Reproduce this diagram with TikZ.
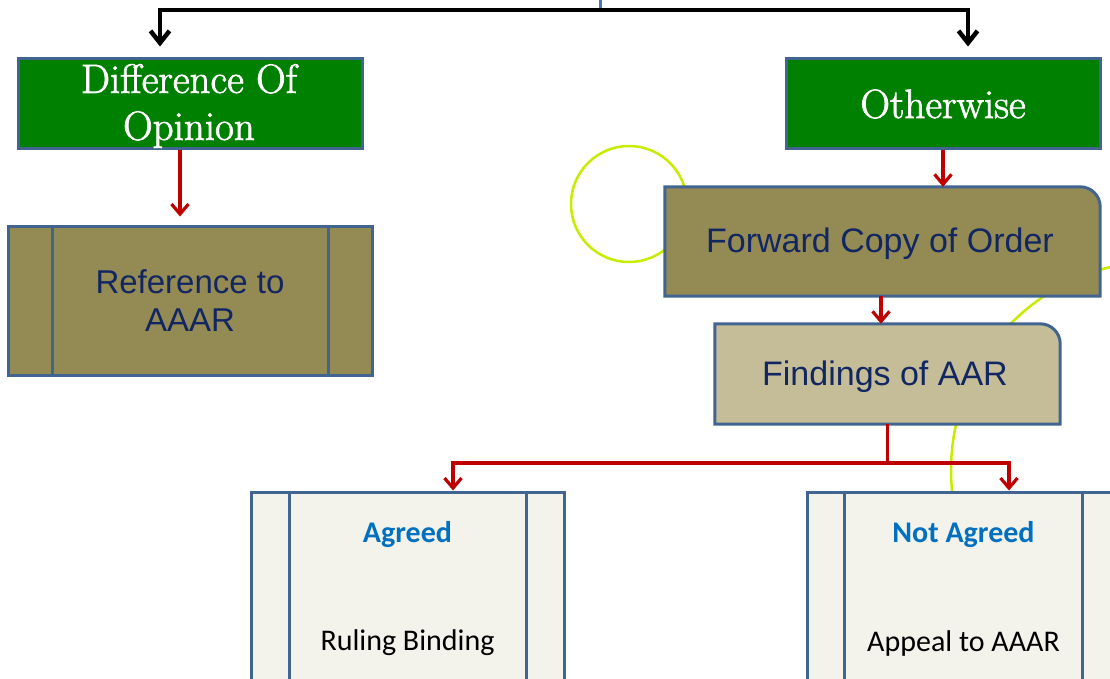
\documentclass[tikz,border=0pt]{standalone}
\usepackage{fontspec}
\newfontfamily\arialf{Liberation Sans}
\newfontfamily\calf{Carlito}
\newfontfamily\gfont{Latin Modern Roman}[FakeBold=1.8]
\usetikzlibrary{arrows.meta,backgrounds,calc}
\definecolor{gr}{RGB}{0,128,0}
\definecolor{oliv}{RGB}{148,138,84}
\definecolor{tan}{RGB}{196,189,151}
\definecolor{lite}{RGB}{243,242,235}
\definecolor{bord}{RGB}{65,100,145}
\definecolor{navy}{RGB}{18,38,98}
\definecolor{bluet}{RGB}{0,112,192}
\definecolor{arrred}{RGB}{192,0,0}
\definecolor{lime}{RGB}{200,236,0}
\definecolor{topblue}{RGB}{70,120,190}
\tikzset{
 gbox/.style={draw=bord, line width=3pt, fill=gr, inner sep=0pt},
 gtxt/.style={text=white, font=\gfont\fontsize{41}{47}\selectfont, align=center, inner sep=0pt},
 obox/.style={draw=bord, line width=3pt, fill=oliv, text=navy, font=\arialf\fontsize{33}{38}\selectfont, align=center, inner sep=0pt},
 tbox/.style={inner sep=0pt, text=navy, font=\arialf\fontsize{34}{38}\selectfont, align=center},
 lbox/.style={draw=bord, line width=3pt, fill=lite, inner sep=0pt},
 bordline/.style={draw=bord, line width=3pt},
 shapeline/.style={draw=bord, line width=3pt},
 headtxt/.style={text=bluet, font=\calf\bfseries\fontsize{30}{34}\selectfont, inner sep=0pt},
 bodytxt/.style={text=black, font=\calf\fontsize{30}{34}\selectfont, inner sep=0pt},
 redarr/.style={draw=arrred, line width=3.2pt, -{Straight Barb[length=10pt,width=17pt]}},
 blkarr/.style={draw=black, line width=4.5pt, -{Straight Barb[length=12pt,width=19pt]}},
 limearc/.style={draw=lime, line width=2.5pt}
}
\begin{document}
\begin{tikzpicture}[x=1pt,y=-1pt]
\useasboundingbox (0,0) rectangle (1110,678);
% nodes
\node[gbox, minimum width=344pt, minimum height=90pt] (diff) at (190,103) {};
\node[gtxt] (diffT) at (189,106) {Difference Of\\Opinion};
\node[gbox, minimum width=314pt, minimum height=90pt] (oth) at (943,103) {};
\node[gtxt] (othT) at (943,104) {Otherwise};
\node[obox, minimum width=364pt, minimum height=149pt] (ref) at (190,300.5) {Reference to\\AAAR};
\node[tbox, minimum width=435pt, minimum height=109pt] (fco) at (882.5,241.5) {};
\node[tbox] (fcoT) at (880,244) {Forward Copy of Order};
\node[tbox, minimum width=345pt, minimum height=100pt] (fin) at (887.5,374) {};
\node[tbox] (finT) at (885,377) {Findings of AAR};
\node[lbox, minimum width=313pt, minimum height=228pt] (ag) at (407.5,606) {};
\node[lbox, minimum width=313pt, minimum height=228pt] (nag) at (963.5,606) {};
\node[headtxt] (agT) at (407.5,535) {Agreed};
\node[bodytxt] (agB) at (407.5,643) {Ruling Binding};
\node[headtxt] (nagT) at (963.5,535) {Not Agreed};
\node[bodytxt] (nagB) at (963.5,643) {Appeal to AAAR};
% inner bars
\draw[bordline] ([xshift=46pt]ref.north west) -- ([xshift=46pt]ref.south west);
\draw[bordline] ([xshift=-45pt]ref.north east) -- ([xshift=-45pt]ref.south east);
\draw[bordline] ([xshift=40pt]ag.north west) -- ([xshift=40pt]ag.south west);
\draw[bordline] ([xshift=-39pt]ag.north east) -- ([xshift=-39pt]ag.south east);
\draw[bordline] ([xshift=39pt]nag.north west) -- ([xshift=39pt]nag.south west);
\draw[bordline] ([xshift=-39pt]nag.north east) -- ([xshift=-39pt]nag.south east);
% background: arcs and rounded boxes
\begin{scope}[on background layer]
\coordinate (c1) at (629,204);
\coordinate (c2) at (1160,470);
\draw[limearc] (c1) circle[radius=58pt];
\draw[limearc] (c2) circle[radius=209pt];
\filldraw[fill=oliv, shapeline] (fco.south west) -- (fco.north west) -- ([xshift=-20pt]fco.north east)
  .. controls ([xshift=-9pt]fco.north east) and ([yshift=-9pt]fco.north east) .. ([yshift=-20pt]fco.north east)
  -- (fco.south east) -- cycle;
\filldraw[fill=tan, shapeline] (fin.south west) -- (fin.north west) -- ([xshift=-20pt]fin.north east)
  .. controls ([xshift=-9pt]fin.north east) and ([yshift=-9pt]fin.north east) .. ([yshift=-20pt]fin.north east)
  -- (fin.south east) -- cycle;
\end{scope}
% top connectors
\coordinate (top) at (600,0);
\coordinate (jn) at (600,10);
\coordinate (jl) at (160,10);
\coordinate (jr) at (968,10);
\draw[draw=topblue, line width=3pt] (top) -- (jn);
\draw[blkarr] (jn) -- (jl) -- ([yshift=10pt]diff.north -| jl);
\draw[blkarr] (jn) -- (jr) -- ([yshift=10pt]oth.north -| jr);
% red connectors
\draw[redarr] ([xshift=-10pt]diff.south) -- ([xshift=-10pt,yshift=8pt]ref.north);
\draw[redarr] (oth.south) -- (oth.south |- fco.north);
\draw[redarr] ([xshift=-1.5pt]fco.south) -- ([xshift=-1.5pt]fco.south |- fin.north);
\coordinate (bl) at (453,463);
\coordinate (brr) at (1009,463);
\draw[redarr] (fin.south) -- (fin.south |- bl) -- (bl) -- (bl |- ag.north);
\draw[redarr] (fin.south |- bl) -- (brr) -- (brr |- nag.north);
\end{tikzpicture}
\end{document}
